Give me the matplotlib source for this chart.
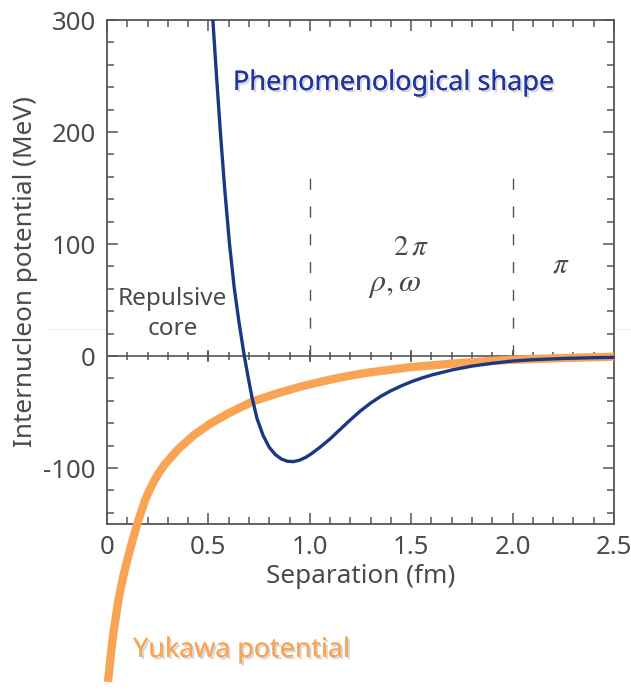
import numpy as np
import matplotlib
matplotlib.use("Agg")
import matplotlib.pyplot as plt
import matplotlib.patheffects as pe
from matplotlib.lines import Line2D
from matplotlib.ticker import MultipleLocator

# phenomenological nucleon-nucleon potential
pheno_x = [0.522, 0.54, 0.559, 0.58, 0.604, 0.628, 0.651, 0.677, 0.695, 0.715,
           0.74, 0.77, 0.80, 0.83, 0.86, 0.89, 0.92, 0.95, 0.98, 1.01, 1.05,
           1.1, 1.15, 1.2, 1.25, 1.3, 1.35, 1.4, 1.45, 1.5, 1.55, 1.6, 1.7,
           1.8, 1.9, 2.0, 2.1, 2.25, 2.4, 2.5]
pheno_y = [300, 250, 200, 150, 100, 60, 30, 0, -18, -37,
           -56, -71, -81.5, -88, -92, -94, -94.3, -93, -90.5, -87, -81.5,
           -74, -65.5, -57, -49, -42, -36, -31, -26.8, -23, -19.8, -17, -12.5,
           -9, -6.5, -4.5, -3.3, -2.2, -1.5, -1.2]

# Yukawa potential
yuk_x = [0.005, 0.018, 0.031, 0.056, 0.08, 0.105, 0.13, 0.15, 0.187, 0.2, 0.228,
         0.255, 0.286, 0.352, 0.426, 0.508, 0.606, 0.72, 0.837, 0.952, 1.042,
         1.116, 1.2, 1.28, 1.494, 1.69, 1.855, 2.0, 2.25, 2.5]
yuk_y = [-291, -268, -248, -218, -197, -178.5, -162, -149.5, -129, -123.5, -113,
         -104.5, -96.5, -83, -71, -60.5, -50.5, -40.5, -33.5, -27.5, -23.5,
         -20.5, -17.5, -15, -10, -7, -4.8, -3.3, -1.8, -0.6]

region_x = [1.0, 2.0]
region_top = 172

grey = "#555555"
text_grey = "#4a4a4a"
blue_line = "#1c3885"
orange = "#f8a454"

plt.rcParams["font.family"] = ["Noto Sans", "DejaVu Sans"]
plt.rcParams["mathtext.fontset"] = "stix"

fig = plt.figure(figsize=(6.31, 6.97), dpi=100)
ax = fig.add_axes([0.1696, 0.2482, 0.8034, 0.7231])

# faint scan line across the picture
fig.add_artist(Line2D([0.076, 1.0], [0.528, 0.528], transform=fig.transFigure,
                      color="#eeeeee", lw=0.8, zorder=0))

ax.set_xlim(0, 2.5)
ax.set_ylim(-150, 300)

for xv in region_x:
    ax.plot([xv, xv], [0, region_top], color=grey, lw=1.0,
            dashes=(8, 12), zorder=1)

# zero line with its own ticks
ax.axhline(0, color=grey, lw=1.2, zorder=1)
ax.plot(np.arange(0.1, 2.5, 0.1), np.zeros(24), ls="none", marker="|",
        ms=6, mew=1.1, color=grey, zorder=1)
ax.plot([0.5, 1.0, 1.5, 2.0], [0, 0, 0, 0], ls="none", marker="|",
        ms=9, mew=1.2, color=grey, zorder=1)

ax.plot(yuk_x, yuk_y, color=orange, lw=6, solid_capstyle="butt",
        solid_joinstyle="round", clip_on=False, zorder=3)
ax.plot(pheno_x, pheno_y, color=blue_line, lw=2.4, solid_joinstyle="round",
        zorder=4)

ax.xaxis.set_minor_locator(MultipleLocator(0.1))
ax.yaxis.set_minor_locator(MultipleLocator(20))
ax.set_xticks([0, 0.5, 1.0, 1.5, 2.0, 2.5])
ax.set_xticklabels(["0", "0.5", "1.0", "1.5", "2.0", "2.5"])
ax.set_yticks([-100, 0, 100, 200, 300])
ax.set_yticklabels(["-100", "0", "100", "200", "300"])

ax.tick_params(which="both", direction="in", top=True, right=True,
               color=grey, width=1.1, labelcolor=text_grey, labelsize=18.5)
ax.tick_params(which="major", length=8)
ax.tick_params(axis="x", which="major", pad=8)
ax.tick_params(axis="y", which="major", pad=8)
ax.tick_params(which="minor", length=5)
for sp in ax.spines.values():
    sp.set_color(grey)
    sp.set_linewidth(1.3)

ax.set_xlabel("Separation (fm)", fontsize=18.8, color=text_grey, va="center")
ax.xaxis.set_label_coords(0.5, -0.105)
ax.set_ylabel("Internucleon potential (MeV)", fontsize=18.8, color=text_grey,
              va="center")
ax.yaxis.set_label_coords(-0.161, 0.5)

ax.text(0.323, 37.5, "Repulsive\ncore", ha="center", va="center", fontsize=17.5,
        color=text_grey, linespacing=1.35)
ax.text(1.5, 97, r"$2\,\pi$", ha="center", va="center", fontsize=21, color=text_grey)
ax.text(1.42, 65, r"$\rho,\omega$", ha="center", va="center", fontsize=23,
        color=text_grey)
ax.text(2.24, 81, r"$\pi$", ha="center", va="center", fontsize=21, color=text_grey)

shadow = [pe.withSimplePatchShadow(offset=(1.5, -1.5), shadow_rgbFace="#888888",
                                   alpha=0.35), pe.Normal()]
ax.text(0.621, 237.5, "Phenomenological shape", ha="left", va="baseline",
        fontsize=19.5, color="#1f33a3", path_effects=shadow)
fig.text(0.211, 0.0574, "Yukawa potential", ha="left", va="baseline",
         fontsize=19.3, color=orange, path_effects=shadow)

fig.savefig("out.png", dpi=100)
